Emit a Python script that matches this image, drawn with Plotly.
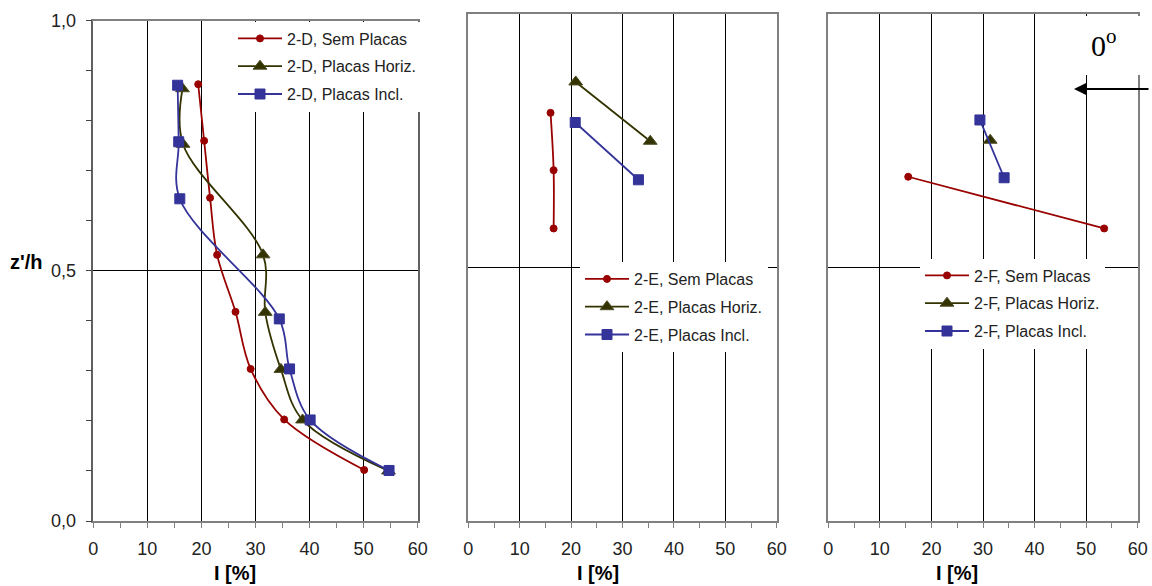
import plotly.graph_objects as go

W, H = 1152, 586

# ---------------- data ----------------
# Panel 2-D
D_sem_I = [19.4, 20.5, 21.6, 22.9, 26.3, 29.1, 35.3, 50.1]
D_sem_z = [0.873, 0.760, 0.646, 0.532, 0.418, 0.304, 0.203, 0.102]
D_hor_I = [16.5, 16.6, 31.4, 31.8, 34.7, 38.7, 54.6]
D_hor_z = [0.864, 0.753, 0.532, 0.417, 0.303, 0.202, 0.100]
D_inc_I = [15.6, 15.8, 16.0, 34.4, 36.3, 40.1, 54.7]
D_inc_z = [0.871, 0.758, 0.644, 0.404, 0.304, 0.202, 0.101]
# Panel 2-E
E_sem_I = [16.0, 16.6, 16.6]
E_sem_z = [0.805, 0.692, 0.577]
E_hor_I = [20.9, 35.4]
E_hor_z = [0.866, 0.749]
E_inc_I = [20.8, 33.1]
E_inc_z = [0.786, 0.673]
# Panel 2-F
F_sem_I = [15.5, 53.5]
F_sem_z = [0.679, 0.577]
F_hor_I = [31.4]
F_hor_z = [0.751]
F_inc_I = [29.4, 34.1]
F_inc_z = [0.791, 0.677]

x_ticks = [0, 10, 20, 30, 40, 50, 60]
y_tickvals = [0, 0.5, 1.0]
y_ticktext = ["0,0", "0,5", "1,0"]
labels_suffix = ["Sem Placas", "Placas Horiz.", "Placas Incl."]
panels = ["2-D", "2-E", "2-F"]

RED = "#990000"
OLIVE = "#333300"
BLUE = "#333399"
FONT = "Liberation Sans, Arial, sans-serif"

styles = [
    dict(color=RED, symbol="circle", size=7, mline="#990000"),
    dict(color=OLIVE, symbol="triangle-up", size=12, mline="#4d4d26"),
    dict(color=BLUE, symbol="square", size=10, mline=BLUE),
]

data = [
    [(D_sem_I, D_sem_z), (D_hor_I, D_hor_z), (D_inc_I, D_inc_z)],
    [(E_sem_I, E_sem_z), (E_hor_I, E_hor_z), (E_inc_I, E_inc_z)],
    [(F_sem_I, F_sem_z), (F_hor_I, F_hor_z), (F_inc_I, F_inc_z)],
]

fig = go.Figure()
for p in range(3):
    axs = "" if p == 0 else str(p + 1)
    leg = "legend" if p == 0 else "legend" + str(p + 1)
    for s in range(3):
        xs, ys = data[p][s]
        st = styles[s]
        fig.add_trace(go.Scatter(
            x=xs, y=ys, mode="lines+markers",
            name=f"{panels[p]}, {labels_suffix[s]}",
            line=dict(color=st["color"], width=1.8, shape="spline", smoothing=1.0),
            marker=dict(color=st["color"], symbol=st["symbol"], size=st["size"],
                        line=dict(color=st["mline"], width=1)),
            xaxis="x" + axs, yaxis="y" + axs,
            legend=leg, legendgroup=f"{p}-{s}",
        ))

# ---------------- axes ----------------
def px_x(v):
    return v / W

def px_y(v):
    return (H - v) / H

doms_x = [(93.3, 417.7), (468.3, 776.7), (828.3, 1137.7)]
doms_y = [(20.7, 521), (14, 521), (14, 521)]

layout = dict(
    width=W, height=H,
    margin=dict(l=0, r=0, t=0, b=0),
    paper_bgcolor="white", plot_bgcolor="white",
    template="none",
    font=dict(family=FONT, size=18, color="#000"),
    showlegend=True,
)

for p in range(3):
    axs = "" if p == 0 else str(p + 1)
    layout["xaxis" + axs] = dict(
        domain=[px_x(doms_x[p][0]), px_x(doms_x[p][1])],
        anchor="y" + axs,
        range=[0, 60], tickvals=x_ticks, ticktext=[str(t) for t in x_ticks],
        showgrid=True, gridcolor="#000", gridwidth=1,
        zeroline=False, showline=True, linecolor="#808080", linewidth=1.5, mirror=True,
        ticks="outside", ticklen=5, tickcolor="#808080", tickwidth=1,
        minor=dict(dtick=5, ticks="outside", ticklen=5, tickcolor="#808080", showgrid=False),
        tickfont=dict(family=FONT, size=18, color="#222"),
        ticklabelstandoff=6,
        automargin=False, fixedrange=True,
    )
    yax = dict(
        domain=[px_y(doms_y[p][1]), px_y(doms_y[p][0])],
        anchor="x" + axs,
        range=[0, 1],
        showgrid=True, gridcolor="#000", gridwidth=1,
        zeroline=False, showline=True, linecolor="#808080", linewidth=1.5, mirror=True,
        automargin=False, fixedrange=True,
    )
    if p == 0:
        yax.update(
            tickvals=y_tickvals, ticktext=y_ticktext,
            ticks="outside", ticklen=6, tickcolor="#444", tickwidth=1,
            minor=dict(dtick=0.1, ticks="outside", ticklen=6, tickcolor="#444", showgrid=False),
            tickfont=dict(family=FONT, size=18, color="#222"),
            ticklabelstandoff=6,
            linecolor="#606060",
        )
    else:
        yax.update(tickvals=[0.5], showticklabels=False, ticks="")
    layout["yaxis" + axs] = yax

leg_common = dict(
    bgcolor="white", borderwidth=0,
    font=dict(family=FONT, size=16, color="#222"),
    xanchor="left", yanchor="top",
    traceorder="grouped", tracegroupgap=4,
    itemwidth=44, itemclick=False, itemdoubleclick=False,
)
layout["legend"] = dict(leg_common, x=px_x(233), y=px_y(21.5))
layout["legend2"] = dict(leg_common, x=px_x(580), y=px_y(262))
layout["legend3"] = dict(leg_common, x=px_x(920), y=px_y(258.5))

annotations = [
    dict(text="<b>z'/h</b>", x=px_x(26), y=px_y(262), xref="paper", yref="paper",
         xanchor="center", yanchor="middle",
         showarrow=False, font=dict(family=FONT, size=20, color="#000")),
]
for cx in [235, 597.5, 957]:
    annotations.append(dict(text="<b>I [%]</b>", x=px_x(cx), y=px_y(573), xref="paper", yref="paper",
                            xanchor="center", yanchor="middle",
                            showarrow=False, font=dict(family=FONT, size=20, color="#000")))
annotations.append(dict(text="0<sup>o</sup>", x=px_x(1104), y=px_y(43), xref="paper", yref="paper",
                        xanchor="center", yanchor="middle",
                        showarrow=False,
                        font=dict(family="Liberation Serif, Times New Roman, serif", size=30, color="#000")))
annotations.append(dict(text="", x=px_x(1074), y=px_y(89), xref="paper", yref="paper",
                        showarrow=True, ax=76, ay=0, axref="pixel", ayref="pixel",
                        arrowhead=2, arrowsize=1.4, arrowwidth=1.8, arrowcolor="#000",
                        standoff=0, startstandoff=0))
layout["annotations"] = annotations

layout["shapes"] = [
    dict(type="rect", xref="paper", yref="paper",
         x0=px_x(1045), x1=1.0, y0=px_y(75), y1=px_y(16),
         fillcolor="white", line=dict(width=0), layer="above"),
]

fig.update_layout(**layout)
fig.write_html("out.html")
